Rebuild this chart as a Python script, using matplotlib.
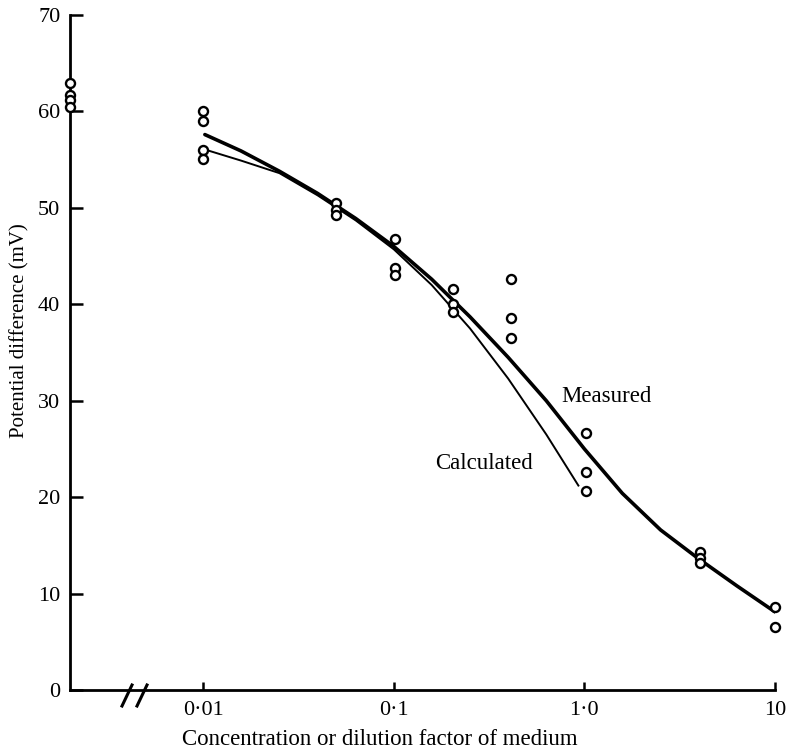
import matplotlib
matplotlib.use("Agg")
import matplotlib.pyplot as plt

plt.rcParams['font.family'] = ['Liberation Serif', 'DejaVu Serif']

# --- data ---
x_left = 0.002  # undiluted control, drawn at the broken axis start
control_y = [63.0, 61.7, 61.2, 60.5]

conc_groups = [0.01, 0.05, 0.1016, 0.204, 0.411, 1.02, 4.04, 10]
pd_groups = [
    [60.0, 59.0, 56.0, 55.1],
    [50.5, 49.8, 49.3],
    [46.8, 43.8, 43.0],
    [41.6, 40.0, 39.2],
    [42.6, 38.6, 36.5],
    [26.7, 22.6, 20.6],
    [14.3, 13.7, 13.2],
    [8.6, 6.5],
]

measured_x = [0.0102, 0.0158, 0.0251, 0.0398, 0.0631, 0.1, 0.158, 0.251, 0.398,
              0.631, 1.0, 1.58, 2.51, 3.98, 6.31, 10]
measured_y = [57.6, 55.9, 53.8, 51.5, 48.9, 46.0, 42.6, 38.7, 34.5,
              30.0, 25.0, 20.4, 16.6, 13.6, 10.8, 8.1]

calc_x = [0.0104, 0.0158, 0.0251, 0.0398, 0.0631, 0.1, 0.158, 0.251, 0.398, 0.631, 0.93]
calc_y = [56.0, 54.9, 53.6, 51.3, 48.7, 45.7, 42.0, 37.5, 32.3, 26.5, 21.2]

xticks = [0.01, 0.1, 1.0, 10]
xtick_labels = ['0·01', '0·1', '1·0', '10']
yticks = [0, 10, 20, 30, 40, 50, 60, 70]

fig = plt.figure(figsize=(7.9, 7.53), dpi=100)
ax = fig.add_axes([70/790, 63/753, 705/790, 675/753])
ax.set_xscale('log')
ax.set_xlim(x_left, 10)
ax.set_ylim(0, 70)

ax.plot(measured_x, measured_y, color='black', lw=2.6, solid_capstyle='round',
        solid_joinstyle='round', zorder=3)
ax.plot(calc_x, calc_y, color='black', lw=1.4, solid_joinstyle='round', zorder=3)

mk = dict(marker='o', ms=6.5, mfc='white', mec='black', mew=1.7, ls='none', clip_on=False, zorder=4)
ax.plot([x_left]*len(control_y), control_y, **mk)
for xv, ys in zip(conc_groups, pd_groups):
    ax.plot([xv]*len(ys), ys, **mk)

ax.text(1.31, 30.4, 'Measured', fontsize=16.5, ha='center', va='center')
ax.text(0.298, 23.5, 'Calculated', fontsize=16.5, ha='center', va='center')

for s in ['top', 'right']:
    ax.spines[s].set_visible(False)
for s in ['left', 'bottom']:
    ax.spines[s].set_linewidth(2.0)

ax.set_xticks(xticks)
ax.set_xticklabels(xtick_labels)
ax.xaxis.set_minor_locator(matplotlib.ticker.NullLocator())
ax.set_yticks(yticks)
ax.tick_params(axis='y', direction='in', length=9, width=1.8, labelsize=16, pad=7)
ax.tick_params(axis='x', direction='in', length=6, width=1.8, labelsize=16, pad=8)

ax.set_xlabel('Concentration or dilution factor of medium', fontsize=16.5)
ax.xaxis.set_label_coords(0.44, -0.058)
ax.set_ylabel('Potential difference (mV)', fontsize=15)
ax.yaxis.set_label_coords(-0.058, 0.533)

# axis break marks
for x0 in [52/705, 67/705]:
    ax.plot([x0, x0 + 10/705], [-16/675, 5/675], transform=ax.transAxes,
            color='black', lw=2.2, clip_on=False)

fig.savefig('out.png', dpi=100)
